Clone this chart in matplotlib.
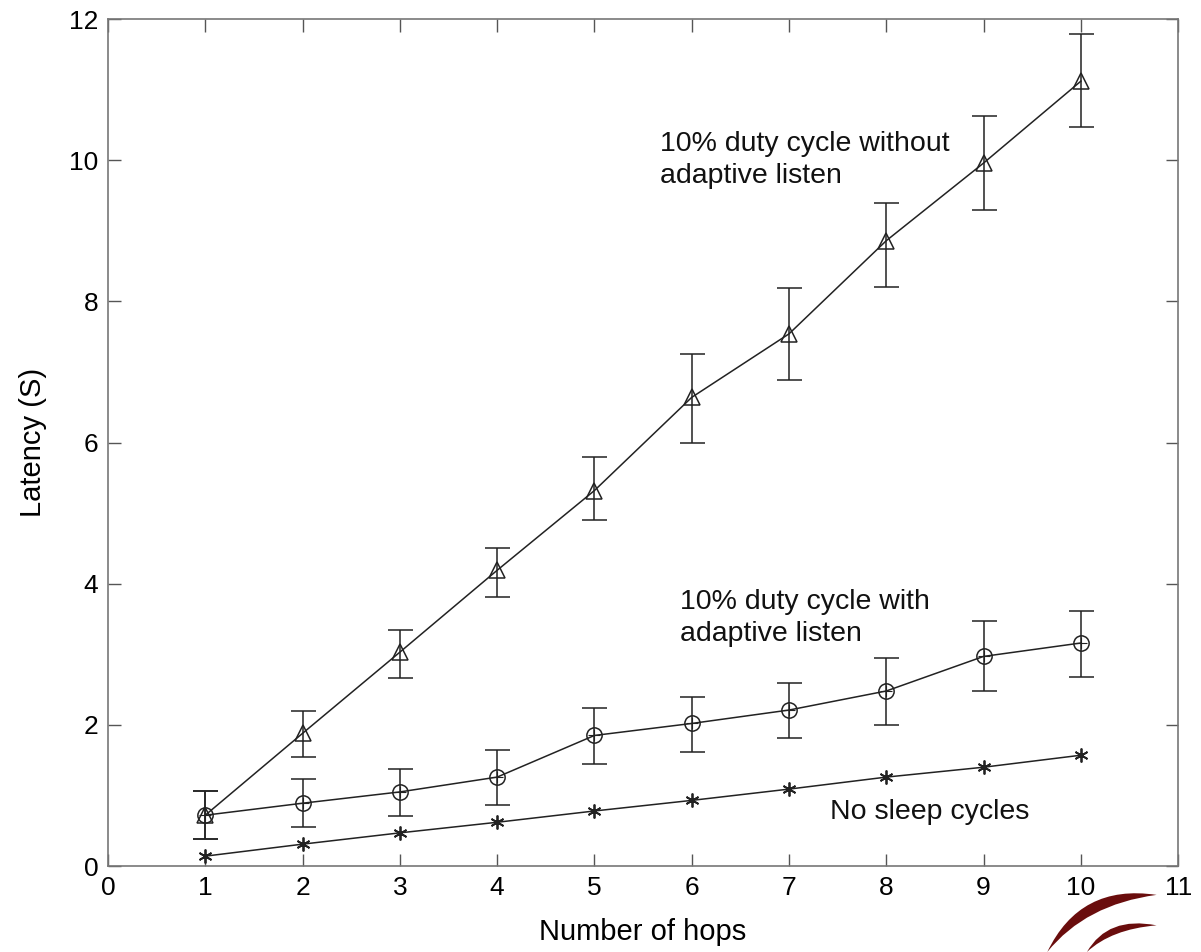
import matplotlib
matplotlib.use("Agg")
import matplotlib.pyplot as plt
from matplotlib.path import Path
from matplotlib.patches import PathPatch

plt.rcParams['font.family'] = ['Liberation Sans', 'DejaVu Sans']

hops = [1, 2, 3, 4, 5, 6, 7, 8, 9, 10]

# 10% duty cycle without adaptive listen
no_adapt = [0.72, 1.88, 3.03, 4.19, 5.32, 6.64, 7.54, 8.86, 9.96, 11.12]
no_adapt_lo = [0.38, 1.54, 2.67, 3.81, 4.90, 6.00, 6.89, 8.21, 9.30, 10.47]
no_adapt_hi = [1.06, 2.19, 3.34, 4.50, 5.80, 7.25, 8.19, 9.40, 10.63, 11.79]

# 10% duty cycle with adaptive listen
adapt = [0.72, 0.89, 1.05, 1.26, 1.85, 2.02, 2.21, 2.48, 2.97, 3.16]
adapt_lo = [0.38, 0.55, 0.71, 0.86, 1.44, 1.62, 1.81, 2.00, 2.48, 2.68]
adapt_hi = [1.06, 1.23, 1.37, 1.64, 2.24, 2.39, 2.60, 2.95, 3.47, 3.62]

# no sleep cycles
no_sleep = [0.14, 0.31, 0.47, 0.62, 0.78, 0.93, 1.09, 1.26, 1.40, 1.57]

x_ticks = list(range(0, 12))
y_ticks = [0, 2, 4, 6, 8, 10, 12]

fig = plt.figure(figsize=(12.01, 9.52), dpi=100)
ax = fig.add_axes([0.0899, 0.0903, 0.8911, 0.8897])

line_col = "#222222"


def err(vals, lo, hi):
    return [[v - l for v, l in zip(vals, lo)], [h - v for v, h in zip(vals, hi)]]


ax.errorbar(hops, no_adapt, yerr=err(no_adapt, no_adapt_lo, no_adapt_hi),
            color=line_col, lw=1.1, elinewidth=1.1, capsize=9, capthick=1.1,
            marker="^", markersize=12, markerfacecolor="none",
            markeredgecolor=line_col, markeredgewidth=1.1)
ax.errorbar(hops, adapt, yerr=err(adapt, adapt_lo, adapt_hi),
            color=line_col, lw=1.1, elinewidth=1.1, capsize=9, capthick=1.1,
            marker="o", markersize=11, markerfacecolor="none",
            markeredgecolor=line_col, markeredgewidth=1.1)
ax.plot(hops, no_sleep, color=line_col, lw=1.1,
        marker=(6, 2, 0), markersize=10, markeredgewidth=1.3,
        markeredgecolor=line_col)
# small cross inside the circles, like the original
ax.plot(hops, adapt, linestyle="none", marker="+", markersize=8,
        markeredgewidth=0.8, color=line_col)

ax.set_xlim(0, 11)
ax.set_ylim(0, 12)
ax.set_xticks(x_ticks)
ax.set_yticks(y_ticks)
ax.tick_params(direction="in", length=9, width=1, labelsize=19,
               top=True, right=True, color="#555555", pad=7)
for s in ax.spines.values():
    s.set_color("#777777")
    s.set_linewidth(1.2)

ax.set_xlabel("Number of hops", fontsize=21, labelpad=13)
ax.set_ylabel("Latency (S)", fontsize=21, labelpad=16)

txt = dict(fontsize=20.5, color="#111111", va="top", ha="left", linespacing=1.3)
ax.text(5.67, 10.42, "10% duty cycle without\nadaptive listen", **txt)
ax.text(5.88, 3.93, "10% duty cycle with\nadaptive listen", **txt)
ax.text(7.42, 0.95, "No sleep cycles", **txt)

# logo swoosh at bottom right
def crescent(x0, y0, x1, y1, bend, thick):
    verts = [(x0, y0), (x0 + (x1 - x0) * 0.3, y0 + bend), (x1, y1),
             (x0 + (x1 - x0) * 0.35, y0 + bend - thick), (x0, y0)]
    codes = [Path.MOVETO, Path.CURVE3, Path.CURVE3, Path.CURVE3, Path.CURVE3]
    return PathPatch(Path(verts, codes), transform=fig.transFigure,
                     facecolor="#6a0d0d", edgecolor="none")

fig.patches.append(crescent(0.872, 0.0, 0.963, 0.060, 0.072, 0.022))
fig.patches.append(crescent(0.905, 0.0, 0.963, 0.028, 0.038, 0.014))

fig.savefig("out.png", dpi=100)
